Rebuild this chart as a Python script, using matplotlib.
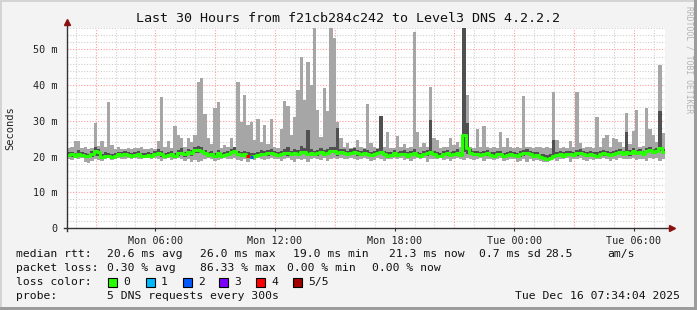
import numpy as np
import matplotlib
matplotlib.use('Agg')
import matplotlib.pyplot as plt
from matplotlib.patches import Rectangle

# 30 hours of smokeping data, 10 minute bins (values in ms)
start_hour = 1 + 34 / 60          # Mon 01:34
bin_hours = 1 / 6

hi = [22.5, 22.8, 24.4, 24.4, 22.3, 22.8, 22.0, 22.5, 29.5, 23.0, 24.4, 22.6, 35.4, 23.3, 22.0, 22.8, 22.2, 22.0, 22.5, 22.0,
      22.4, 22.4, 22.6, 22.2, 22.0, 22.5, 22.2, 24.4, 36.8, 22.8, 24.4, 22.5, 28.7, 26.0, 25.2, 22.6, 25.3, 24.0, 26.0, 41.0,
      42.1, 31.8, 25.1, 23.5, 33.7, 35.4, 22.5, 23.3, 22.8, 25.2, 22.6, 41.0, 29.8, 37.2, 28.9, 29.8, 24.7, 30.5, 24.2, 28.9,
      23.5, 30.5, 22.6, 22.4, 27.8, 35.6, 34.2, 26.0, 31.2, 38.6, 48.0, 35.9, 46.6, 40.0, 55.9, 33.0, 25.6, 39.1, 32.8, 56.0,
      53.3, 29.8, 25.2, 22.8, 23.7, 22.5, 22.8, 24.7, 22.6, 22.4, 34.7, 23.7, 22.6, 22.4, 31.5, 22.6, 26.8, 22.5, 22.4, 25.9,
      22.6, 23.6, 22.4, 22.6, 54.8, 27.0, 22.8, 23.8, 22.6, 39.6, 25.2, 24.7, 22.4, 22.6, 22.8, 25.2, 23.2, 24.2, 22.8, 56.8,
      37.2, 22.8, 22.4, 27.8, 22.6, 28.6, 22.8, 22.4, 22.6, 22.4, 26.8, 22.6, 25.1, 22.8, 22.4, 22.6, 22.4, 37.0, 22.8, 22.6,
      22.4, 22.6, 22.8, 22.4, 22.6, 22.5, 38.2, 24.7, 22.5, 22.8, 22.4, 24.4, 22.6, 38.2, 23.7, 22.4, 22.8, 22.6, 22.4, 31.2,
      22.8, 25.2, 26.0, 22.6, 25.2, 25.0, 24.2, 22.6, 32.1, 23.5, 27.2, 33.1, 22.8, 23.0, 33.5, 27.8, 26.0, 24.0, 45.6, 26.5]

dhi = [21.2, 21.4, 21.0, 21.8, 21.3, 21.0, 20.8, 21.5, 22.6, 22.0, 20.8, 21.2, 21.0, 20.7, 21.0, 21.4, 21.3, 21.6, 21.2, 21.0,
       21.3, 21.5, 21.1, 20.9, 21.2, 21.0, 21.7, 22.0, 21.5, 21.1, 21.4, 21.6, 21.0, 21.9, 22.3, 21.4, 22.2, 21.9, 22.8, 22.9,
       22.6, 21.9, 21.2, 21.5, 21.1, 21.8, 21.0, 21.4, 21.7, 22.1, 22.6, 21.6, 21.3, 21.5, 21.2, 20.9, 21.1, 21.4, 21.8, 21.5,
       21.8, 22.0, 21.6, 21.4, 21.7, 22.1, 22.8, 21.5, 22.0, 21.8, 23.0, 22.5, 27.5, 22.0, 21.6, 21.9, 22.4, 21.8, 22.1, 22.6,
       22.8, 28.0, 22.2, 22.0, 21.7, 22.1, 22.3, 21.9, 21.6, 22.0, 21.8, 21.4, 21.6, 22.0, 31.5, 21.6, 21.2, 21.4, 21.8, 21.3,
       21.5, 21.8, 21.2, 21.6, 22.0, 21.4, 21.1, 21.5, 21.9, 30.3, 21.6, 21.2, 21.0, 21.5, 21.8, 21.3, 21.7, 22.0, 21.4, 56.8,
       29.3, 22.0, 21.5, 21.7, 21.3, 21.6, 21.8, 21.4, 21.2, 21.5, 21.7, 21.1, 21.4, 21.6, 21.3, 21.0, 21.5, 21.8, 22.0, 21.7,
       21.2, 21.4, 20.8, 20.6, 20.4, 20.7, 24.7, 21.4, 21.6, 21.2, 21.5, 21.7, 21.4, 21.8, 22.0, 21.5, 21.3, 21.7, 21.4, 21.2,
       21.5, 21.8, 21.6, 21.4, 21.7, 21.9, 22.1, 21.6, 27.0, 21.8, 22.5, 21.9, 22.2, 21.7, 22.4, 22.7, 22.1, 22.4, 32.8, 22.2]

dlo = [19.9, 20.0, 19.8, 20.1, 20.0, 19.6, 19.5, 19.9, 20.3, 20.2, 19.6, 19.9, 19.8, 19.5, 19.8, 20.1, 20.0, 20.2, 19.9, 19.8,
       20.0, 20.1, 19.8, 19.7, 19.9, 19.8, 20.2, 20.4, 20.0, 19.8, 20.0, 20.2, 19.7, 20.3, 20.5, 20.0, 20.6, 20.3, 21.0, 21.1,
       20.9, 20.4, 19.9, 20.1, 19.8, 20.3, 19.7, 20.0, 20.2, 20.6, 20.9, 20.1, 19.9, 20.1, 19.8, 19.6, 19.7, 20.0, 20.2, 20.1,
       20.3, 20.4, 20.2, 20.0, 20.2, 20.5, 20.3, 20.1, 20.4, 20.2, 20.6, 20.8, 20.2, 20.4, 20.1, 20.3, 20.7, 20.2, 20.5, 20.9,
       21.0, 20.3, 20.6, 20.4, 20.2, 20.5, 20.7, 20.3, 20.1, 20.4, 20.2, 20.0, 20.1, 20.4, 20.6, 20.1, 19.8, 20.0, 20.3, 19.9,
       20.1, 20.2, 19.8, 20.1, 20.4, 20.0, 19.7, 20.1, 20.3, 20.8, 20.2, 19.8, 19.6, 20.1, 20.3, 19.9, 20.2, 20.4, 20.0, 21.2,
       20.8, 20.4, 20.1, 20.2, 19.9, 20.2, 20.3, 20.0, 19.8, 20.1, 20.2, 19.7, 20.0, 20.2, 19.9, 19.6, 20.0, 20.3, 20.5, 20.2,
       19.8, 20.0, 19.4, 19.2, 19.0, 19.3, 19.7, 20.0, 20.1, 19.8, 20.1, 20.2, 20.0, 20.3, 20.5, 20.1, 19.9, 20.2, 20.0, 19.8,
       20.1, 20.3, 20.2, 20.0, 20.2, 20.4, 20.6, 20.2, 20.8, 20.3, 21.0, 20.4, 20.7, 20.2, 20.9, 21.2, 20.6, 20.9, 21.5, 20.7]

lo = [19.4, 19.0, 19.6, 19.2, 19.5, 18.6, 18.2, 18.8, 19.3, 19.1, 18.9, 19.4, 19.5, 19.0, 19.3, 19.6, 19.4, 19.2, 19.5, 19.3,
      19.6, 19.4, 19.2, 19.5, 19.7, 19.3, 19.5, 19.4, 18.8, 19.2, 19.5, 19.1, 19.4, 19.6, 19.3, 18.7, 19.2, 18.4, 19.0, 18.6,
      18.9, 19.2, 19.5, 19.3, 18.8, 19.1, 19.4, 19.6, 19.2, 19.4, 19.5, 19.1, 18.7, 19.3, 18.4, 19.2, 19.0, 19.5, 19.3, 19.1,
      19.4, 19.5, 19.2, 19.3, 18.9, 19.4, 19.6, 19.1, 18.5, 19.3, 19.0, 19.4, 18.6, 19.2, 19.5, 19.3, 19.1, 19.6, 18.9, 19.2,
      19.5, 19.3, 19.6, 19.2, 19.4, 19.5, 19.3, 19.0, 19.4, 19.6, 19.2, 18.9, 19.1, 19.5, 19.3, 18.8, 19.4, 19.2, 19.6, 19.3,
      19.5, 19.1, 19.4, 18.8, 19.2, 19.5, 19.3, 19.6, 18.6, 19.2, 19.4, 19.3, 19.5, 19.1, 19.4, 18.7, 19.3, 19.5, 19.2, 19.0,
      19.6, 19.3, 19.1, 19.4, 19.5, 18.8, 19.2, 19.4, 19.0, 19.3, 19.5, 18.7, 19.1, 19.4, 19.2, 18.6, 18.9, 19.3, 18.5, 19.2,
      18.8, 19.1, 18.9, 18.4, 18.6, 19.0, 19.3, 18.8, 19.2, 19.4, 19.5, 18.6, 19.2, 19.4, 19.5, 19.0, 18.8, 19.3, 19.1, 19.4,
      19.2, 19.5, 19.3, 18.9, 19.4, 19.1, 19.5, 19.3, 19.4, 19.2, 19.6, 19.0, 19.3, 19.4, 18.8, 19.5, 19.2, 19.6, 18.9, 19.4]

med = [20.4, 20.6, 20.2, 20.8, 20.5, 20.3, 20.1, 20.7, 21.6, 21.2, 20.0, 20.3, 20.1, 19.9, 20.2, 20.6, 20.5, 20.7, 20.4, 20.2,
       20.5, 20.6, 20.3, 20.1, 20.4, 20.2, 20.8, 21.0, 20.6, 20.3, 20.5, 20.7, 20.2, 20.9, 21.1, 20.6, 21.3, 21.0, 21.8, 21.9,
       21.7, 21.0, 20.4, 20.6, 20.3, 20.9, 20.1, 20.5, 20.8, 21.2, 21.6, 20.7, 20.4, 20.6, 20.3, 20.0, 20.2, 20.5, 20.8, 20.6,
       20.9, 21.0, 20.7, 20.5, 20.8, 21.1, 20.9, 20.6, 21.0, 20.8, 21.2, 21.4, 20.7, 21.0, 20.6, 20.9, 21.3, 20.8, 21.1, 21.5,
       21.6, 20.9, 21.2, 21.0, 20.7, 21.1, 21.3, 20.9, 20.6, 21.0, 20.8, 20.5, 20.6, 21.0, 21.2, 20.6, 20.3, 20.5, 20.9, 20.4,
       20.6, 20.8, 20.3, 20.7, 21.0, 20.5, 20.2, 20.6, 20.9, 21.4, 20.7, 20.3, 20.1, 20.6, 20.9, 20.4, 20.8, 21.0, 20.5, 26.0,
       22.4, 21.0, 20.6, 20.8, 20.4, 20.7, 20.9, 20.5, 20.3, 20.6, 20.8, 20.2, 20.5, 20.7, 20.4, 20.1, 20.6, 20.9, 21.1, 20.8,
       20.3, 20.5, 19.8, 19.6, 19.4, 19.7, 20.2, 20.5, 20.7, 20.3, 20.6, 20.8, 20.5, 20.9, 21.1, 20.6, 20.4, 20.8, 20.5, 20.3,
       20.6, 20.9, 20.7, 20.5, 20.8, 21.0, 21.2, 20.7, 21.4, 20.9, 21.6, 21.0, 21.3, 20.8, 21.5, 21.8, 21.2, 21.5, 22.3, 21.3]

# bins where the median is drawn in a loss colour
loss_bins = [54, 55]
loss_levels = [4, 2]

loss_colors = ['#26ff00', '#00b8ff', '#0059ff', '#7e00ff', '#ff0000', '#a10000']
loss_names = ['0', '1', '2', '3', '4', '5/5']

x_ticks = [6, 12, 18, 24, 30]
x_labels = ['Mon 06:00', 'Mon 12:00', 'Mon 18:00', 'Tue 00:00', 'Tue 06:00']
y_ticks = [0, 10, 20, 30, 40, 50]
y_labels = ['0', '10 m', '20 m', '30 m', '40 m', '50 m']

W, H = 697, 310
mono = 'DejaVu Sans Mono'
plt.rcParams['font.family'] = mono


def fx(x):
    return x / W


def fy(y):
    return 1 - y / H


fig = plt.figure(figsize=(W / 100, H / 100), dpi=100, facecolor='#f3f3f3')
ax = fig.add_axes([fx(67), fy(228), 598 / W, 200 / H])
ax.set_facecolor('white')

edges = start_hour + np.arange(len(hi) + 1) * bin_hours


def ext(v):
    return np.append(v, v[-1])


# grid
for h in range(2, 32):
    red = h % 3 == 0
    ax.axvline(h, color='#ff9c9c' if red else '#cfcfcf', lw=0.8, ls=(0, (1, 1.5)), zorder=1)
for v in range(2, 57, 2):
    red = v % 10 == 0
    ax.axhline(v, color='#ff9c9c' if red else '#cfcfcf', lw=0.8, ls=(0, (1, 1.5)), zorder=1)

# smoke
ax.fill_between(edges, ext(lo), ext(hi), step='post', color='#a6a6a6', lw=0, zorder=2)
ax.fill_between(edges, ext(dlo), ext(dhi), step='post', color='#505050', lw=0, zorder=3)

# median
ax.step(edges, ext(med), where='post', color=loss_colors[0], lw=2.2, zorder=4)
for b, lv in zip(loss_bins, loss_levels):
    ax.hlines(med[b], edges[b], edges[b + 1], color=loss_colors[lv], lw=2.2, zorder=5)

ax.set_xlim(start_hour, start_hour + 30)
ax.set_ylim(0, 56)
ax.set_xticks(x_ticks)
ax.set_xticklabels(x_labels)
ax.set_yticks(y_ticks)
ax.set_yticklabels(y_labels)
ax.tick_params(axis='x', length=2.5, width=0.8, color='#333333', pad=3, labelsize=7.3, labelcolor='#222222')
ax.tick_params(axis='y', length=0, pad=7, labelsize=7.3, colors='#222222')
for s in ax.spines.values():
    s.set_visible(False)

# axes with arrows
ax.plot([0, 0], [-0.015, 1.02], transform=ax.transAxes, color='#333333', lw=1, clip_on=False, zorder=6)
ax.plot([-0.005, 1.01], [0, 0], transform=ax.transAxes, color='#333333', lw=1, clip_on=False, zorder=6)
ax.plot([0], [1.03], marker='^', ms=4.5, color='#8b1010', transform=ax.transAxes, clip_on=False, zorder=7)
ax.plot([1.0125], [0], marker='>', ms=4.5, color='#8b1010', transform=ax.transAxes, clip_on=False, zorder=7)

fig.text(fx(10), fy(128), 'Seconds', rotation=90, ha='center', va='center', fontsize=7.5, color='#222222')
fig.text(fx(348), fy(19), 'Last 30 Hours from f21cb284c242 to Level3 DNS 4.2.2.2',
         ha='center', va='center', fontsize=9.6, color='#111111')
fig.text(fx(689), fy(60), 'RRDTOOL / TOBI OETIKER', rotation=270, ha='center', va='center',
         fontsize=5.8, color='#b4b4b4')

# legend rows
lf = 8.2
row = [254, 268, 282, 296]
for x, s in [(16, 'median rtt:'), (107, '20.6 ms avg'), (200, '26.0 ms max'), (293, '19.0 ms min'),
             (389, '21.3 ms now'), (479, '0.7 ms sd'), (545, '28.5'), (607, 'am/s')]:
    fig.text(fx(x), fy(row[0]), s, ha='left', va='center', fontsize=lf, color='#111111')
for x, s in [(16, 'packet loss:'), (107, '0.30 % avg'), (200, '86.33 % max'), (287, '0.00 % min'),
             (372, '0.00 % now')]:
    fig.text(fx(x), fy(row[1]), s, ha='left', va='center', fontsize=lf, color='#111111')
fig.text(fx(16), fy(row[2]), 'loss color:', ha='left', va='center', fontsize=lf, color='#111111')
sq_x = [108, 146, 183, 219, 256, 293]
for x, c, n in zip(sq_x, loss_colors, loss_names):
    fig.add_artist(Rectangle((fx(x), fy(row[2] + 4.5)), 9 / W, 9 / H, transform=fig.transFigure,
                             facecolor=c, edgecolor='black', lw=0.8))
    fig.text(fx(x + 15), fy(row[2]), n, ha='left', va='center', fontsize=lf, color='#111111')
fig.text(fx(16), fy(row[3]), 'probe:', ha='left', va='center', fontsize=lf, color='#111111')
fig.text(fx(107), fy(row[3]), '5 DNS requests every 300s', ha='left', va='center', fontsize=lf, color='#111111')
fig.text(fx(680), fy(row[3]), 'Tue Dec 16 07:34:04 2025', ha='right', va='center', fontsize=lf, color='#111111')

# border frame
fig.add_artist(Rectangle((0, fy(2)), 1, 2 / H, transform=fig.transFigure, color='#d4d4d4', lw=0))
fig.add_artist(Rectangle((0, 0), 2 / W, 1, transform=fig.transFigure, color='#d4d4d4', lw=0))
fig.add_artist(Rectangle((0, 0), 1, 3 / H, transform=fig.transFigure, color='#9c9c9c', lw=0))
fig.add_artist(Rectangle((fx(694), 0), 3 / W, 1, transform=fig.transFigure, color='#9c9c9c', lw=0))

fig.savefig('out.png', dpi=100, facecolor=fig.get_facecolor())
